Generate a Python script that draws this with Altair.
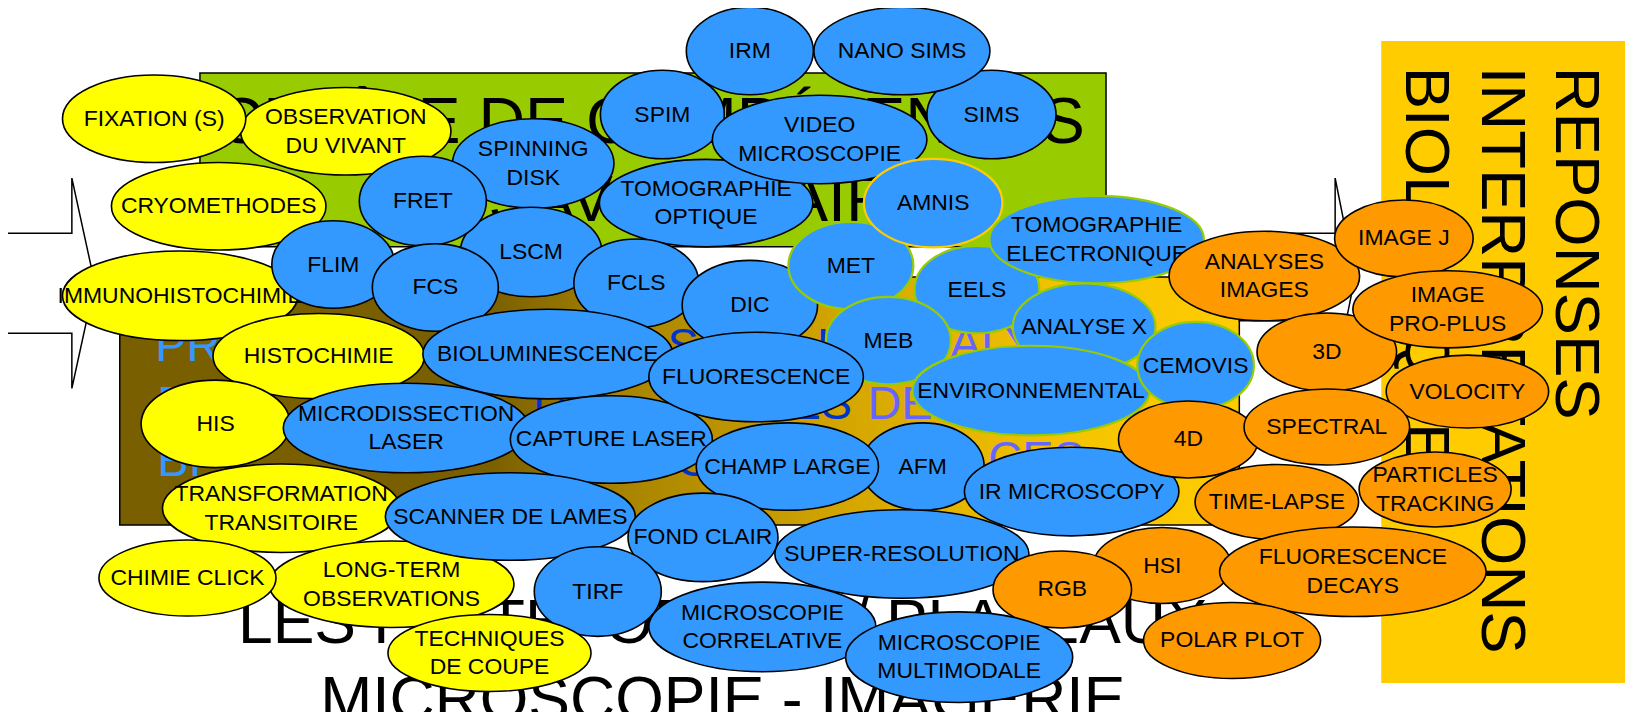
import altair as alt
import pandas as pd

K = 1633 / 1568
FONT = "Liberation Sans"

# ---------------- ellipses (listed bottom -> top in drawing order) ----------------
labels = [
    "IMMUNOHISTOCHIMIE", "CRYOMETHODES", "OBSERVATION\nDU VIVANT", "FIXATION (S)",
    "HISTOCHIMIE", "HIS", "TRANSFORMATION\nTRANSITOIRE", "LONG-TERM\nOBSERVATIONS",
    "CHIMIE CLICK",
    "SPIM", "SIMS", "IRM", "NANO SIMS", "SPINNING\nDISK", "LSCM", "FRET", "FLIM", "FCS",
    "TOMOGRAPHIE\nOPTIQUE", "VIDEO\nMICROSCOPIE", "FCLS", "DIC", "MET", "AMNIS", "EELS",
    "TOMOGRAPHIE\nELECTRONIQUE", "MEB", "ANALYSE X", "ENVIRONNEMENTAL", "CEMOVIS",
    "BIOLUMINESCENCE", "MICRODISSECTION\nLASER", "CAPTURE LASER", "FLUORESCENCE", "AFM",
    "CHAMP LARGE", "IR MICROSCOPY", "SCANNER DE LAMES", "FOND CLAIR", "TIRF",
    "TECHNIQUES\nDE COUPE", "SUPER-RESOLUTION", "MICROSCOPIE\nCORRELATIVE",
    "ANALYSES\nIMAGES", "IMAGE J", "3D", "IMAGE\nPRO-PLUS", "VOLOCITY", "4D", "SPECTRAL",
    "TIME-LAPSE", "PARTICLES\nTRACKING", "HSI", "RGB", "MICROSCOPIE\nMULTIMODALE",
    "FLUORESCENCE\nDECAYS", "POLAR PLOT",
]
cx = [173, 210, 332, 148, 306, 207, 270, 376, 180,
      636, 952, 720, 866, 512, 510, 406, 320, 418, 678, 787, 611, 720, 817, 896, 938,
      1053, 853, 1041, 990, 1148, 526, 390, 587, 726, 886, 756, 1029, 490, 675, 574,
      470, 866, 732,
      1214, 1348, 1274, 1390, 1409, 1141, 1274, 1226, 1378, 1116, 1020, 921, 1299, 1183]
cy = [284, 198, 126, 114, 342, 407, 488, 561, 555,
      110, 110, 49, 49, 157, 242, 193, 254, 276, 195, 134, 272, 293, 255, 195, 278,
      230, 327, 314, 375, 351, 340, 411, 422, 362, 448, 448, 472, 496, 516, 568,
      627, 532, 602,
      265, 229, 338, 297, 376, 422, 410, 482, 470, 543, 566, 631, 549, 615]
ew = [226, 206, 202, 176, 203, 143, 228, 235, 170,
      119, 124, 122, 169, 155, 136, 122, 118, 121, 205, 206, 120, 130, 120, 133, 120,
      206, 120, 137, 228, 112, 240, 236, 194, 206, 118, 175, 206, 240, 144, 122,
      195, 244, 218,
      183, 133, 134, 182, 156, 134, 159, 157, 146, 132, 133, 218, 256, 170]
eh = [86, 84, 84, 84, 82, 84, 85, 83, 73,
      85, 85, 84, 84, 86, 86, 86, 84, 84, 84, 85, 85, 86, 84, 85, 84,
      84, 84, 84, 86, 84, 86, 86, 84, 86, 84, 84, 85, 84, 85, 86,
      74, 85, 86,
      86, 74, 75, 74, 70, 74, 73, 72, 72, 73, 74, 87, 86, 73]
kind = (["Y"] * 9 + ["B"] * 31 + ["Y"] + ["B"] * 2 +
        ["O"] * 11 + ["B"] + ["O"] * 2)
edge = ["k"] * 22 + ["g", "a", "g", "g", "g", "g", "g", "g"] + ["k"] * 27

FILL = {"Y": "#FFFF00", "B": "#3399FF", "O": "#FF9900"}
EDGE = {"k": "#000000", "g": "#99CC00", "a": "#FFCC00"}
EDGE_W = {"k": 1.6, "g": 2.2, "a": 2.2}
LINE_H = 27.5 * K


def ellipse_path(w, h):
    r = h / w
    c = 0.5523
    return (f"M -1 0 C -1 {-c*r:.4f} {-c:.4f} {-r:.4f} 0 {-r:.4f} "
            f"C {c:.4f} {-r:.4f} 1 {-c*r:.4f} 1 0 "
            f"C 1 {c*r:.4f} {c:.4f} {r:.4f} 0 {r:.4f} "
            f"C {-c:.4f} {r:.4f} -1 {c*r:.4f} -1 0 Z")


ell = pd.DataFrame({
    "idx": list(range(len(labels))),
    "label": labels,
    "cx": cx,
    "cy": cy,
    "path": [ellipse_path(w, h) for w, h in zip(ew, eh)],
    "size": [(w * K) ** 2 for w in ew],
    "fill": [FILL[k] for k in kind],
    "stroke": [EDGE[e] for e in edge],
    "sw": [EDGE_W[e] for e in edge],
})

# ---------------- background panels ----------------
panel_x1 = [192, 1327]
panel_x2 = [1062, 1580]
panel_y1 = [70, 40]
panel_y2 = [237, 655]
panel_fill = ["#99CC00", "#FFCC00"]
panel_stroke = ["#000000", "#FFCC00"]

brown_x1 = [115]
brown_x2 = [1190]
brown_y1 = [266]
brown_y2 = [504]

# block arrows (outline vertices)
arrow_id = ["L"] * 8 + ["R"] * 8
arrow_k = list(range(8)) * 2
arrow_x = [3, 69, 69, 91, 69, 69, 3, 3,
           1190, 1282, 1282, 1301, 1282, 1282, 1190, 1190]
arrow_y = [224, 224, 171, 272, 373, 320, 320, 224,
           224, 224, 171, 266, 361, 308, 308, 224]

# ---------------- big texts ----------------
green_text = ["CHAÎNE DE COMPÉTENCES", "SAVOIR-FAIRE"]
green_x = [208, 469]
green_y = [137, 212]

bottom_text = ["LES PLATEFORMES / PLATEAUX", "MICROSCOPIE - IMAGERIE"]
bottom_x = [694, 694]
bottom_y = [617, 691]

side_text = ["REPONSES", "INTERPRETATIONS", "BIOLOGIQUES"]
side_x = [1512, 1441, 1368]
side_y = [64, 64, 64]

frag_text = ["PR", "S", "I", "ALY", "B", "U", "ES", "DE", "BI", "C", "CES"]
frag_x = [149, 641, 784, 912, 151, 512, 758, 833, 151, 649, 949]
frag_y = [347, 347, 347, 345, 402, 402, 402, 402, 457, 457, 455]
frag_col = ["#3399FF", "#0033CC", "#0033CC", "#6666FF", "#3399FF", "#0033CC",
            "#0033CC", "#6666FF", "#3399FF", "#0033CC", "#6666FF"]

# ---------------- scales (1:1 with the page pixels) ----------------
W, H = 1617, 704
xs = alt.Scale(domain=[8 / K, (8 + W) / K], nice=False, zero=False)
ys = alt.Scale(domain=[8 / K, (8 + H) / K], nice=False, zero=False, reverse=True)


def X(f):
    return alt.X(f, type="quantitative", scale=xs, axis=None)


def Y(f):
    return alt.Y(f, type="quantitative", scale=ys, axis=None)


panels = alt.Chart(pd.DataFrame({
    "x1": panel_x1, "x2": panel_x2, "y1": panel_y1, "y2": panel_y2,
    "fill": panel_fill, "stroke": panel_stroke,
})).mark_rect(strokeWidth=1.5).encode(
    x=X("x1"), x2="x2", y=Y("y1"), y2="y2",
    fill=alt.Fill("fill:N", scale=None), stroke=alt.Stroke("stroke:N", scale=None),
)

brown = alt.Chart(pd.DataFrame({
    "x1": brown_x1, "x2": brown_x2, "y1": brown_y1, "y2": brown_y2,
})).mark_rect(
    stroke="#000000", strokeWidth=1.5,
    fill=alt.Gradient(
        gradient="linear", x1=0, x2=1, y1=0, y2=0,
        stops=[
            alt.GradientStop(color="#7A5F00", offset=0),
            alt.GradientStop(color="#7A5F00", offset=0.33),
            alt.GradientStop(color="#A88400", offset=0.45),
            alt.GradientStop(color="#D4A600", offset=0.65),
            alt.GradientStop(color="#F5C400", offset=0.85),
            alt.GradientStop(color="#FFCC00", offset=1),
        ],
    ),
).encode(x=X("x1"), x2="x2", y=Y("y1"), y2="y2")

arrows = alt.Chart(pd.DataFrame({
    "arrow": arrow_id, "k": arrow_k, "x": arrow_x, "y": arrow_y,
})).mark_line(color="#000000", strokeWidth=1.5, strokeJoin="miter").encode(
    x=X("x"), y=Y("y"), detail="arrow:N", order="k:Q",
)

green_lbl = alt.Chart(pd.DataFrame({"t": green_text, "x": green_x, "y": green_y})).mark_text(
    font=FONT, fontSize=62 * K, align="left", baseline="alphabetic", color="#000000",
).encode(x=X("x"), y=Y("y"), text="t:N")

bottom_lbl = alt.Chart(pd.DataFrame({"t": bottom_text, "x": bottom_x, "y": bottom_y})).mark_text(
    font=FONT, fontSize=60 * K, align="center", baseline="alphabetic", color="#000000",
).encode(x=X("x"), y=Y("y"), text="t:N")

side_lbl = alt.Chart(pd.DataFrame({"t": side_text, "x": side_x, "y": side_y})).mark_text(
    font=FONT, fontSize=61 * K, align="left", baseline="middle", angle=90, color="#000000",
).encode(x=X("x"), y=Y("y"), text="t:N")

frag_lbl = alt.Chart(pd.DataFrame({
    "t": frag_text, "x": frag_x, "y": frag_y, "c": frag_col,
})).mark_text(font=FONT, fontSize=45 * K, align="left", baseline="alphabetic").encode(
    x=X("x"), y=Y("y"), text="t:N", color=alt.Color("c:N", scale=None),
)

layers = [panels, brown, arrows, green_lbl, bottom_lbl, side_lbl, frag_lbl]

base = alt.Chart(ell)
for i in range(len(labels)):
    b = base.transform_filter(alt.datum.idx == i)
    n_lines = labels[i].count("\n") + 1
    layers.append(
        b.mark_point(filled=True, opacity=1, fillOpacity=1, strokeOpacity=1).encode(
            x=X("cx"), y=Y("cy"),
            shape=alt.Shape("path:N", scale=None),
            size=alt.Size("size:Q", scale=None),
            fill=alt.Fill("fill:N", scale=None),
            stroke=alt.Stroke("stroke:N", scale=None),
            strokeWidth=alt.StrokeWidth("sw:Q", scale=None),
        )
    )
    layers.append(
        b.mark_text(font=FONT, fontSize=22 * K, align="center", baseline="middle",
                    lineBreak="\n", lineHeight=LINE_H, color="#000000",
                    dy=-(n_lines - 1) * LINE_H / 2).encode(
            x=X("cx"), y=Y("cy"), text="label:N",
        )
    )

chart = alt.layer(*layers).properties(
    width=W, height=H, padding=0, autosize="none", background="#FFFFFF",
).configure_view(stroke=None)

chart.save("out.html", embed_options={"renderer": "svg", "actions": False})
